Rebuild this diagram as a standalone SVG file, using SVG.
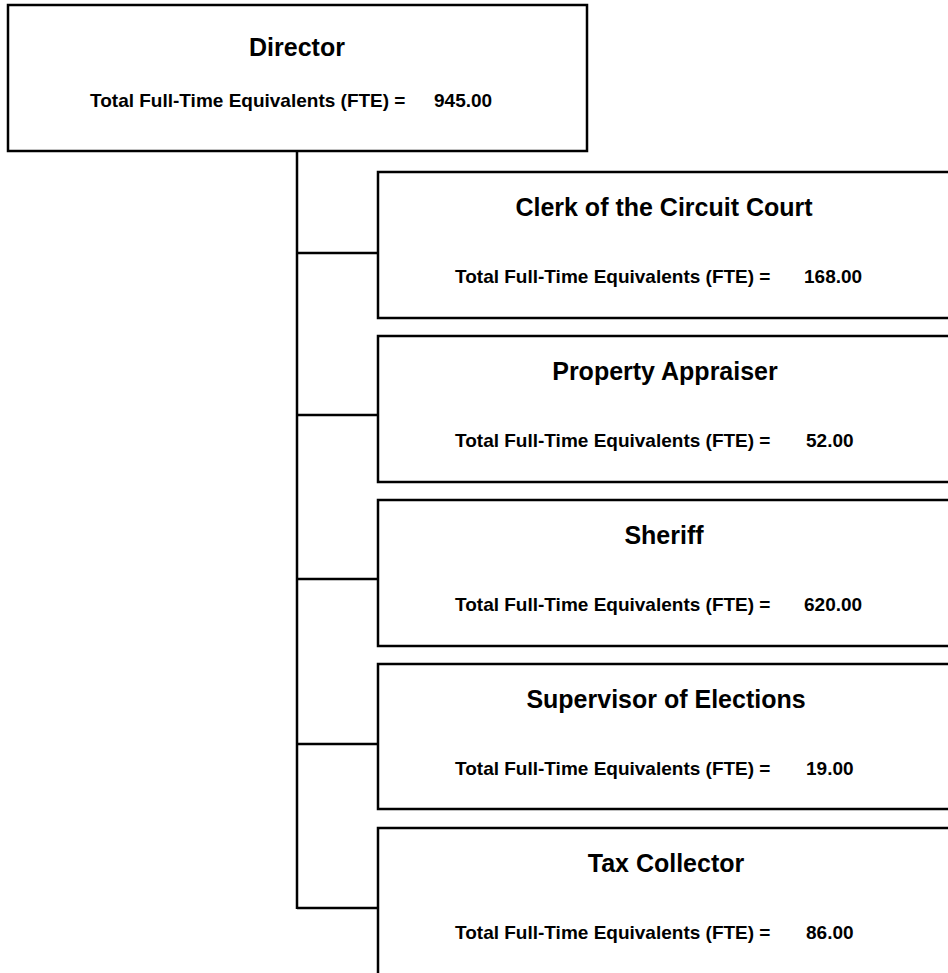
<svg xmlns="http://www.w3.org/2000/svg" width="948" height="973" viewBox="0 0 948 973">
<style>
.box{fill:#fff;stroke:#000;stroke-width:2.5}
.conn{fill:none;stroke:#000;stroke-width:2.5}
.title{font-family:"Liberation Sans",Arial,sans-serif;font-weight:bold;font-size:25px;text-anchor:middle;fill:#000}
.fte{font-family:"Liberation Sans",Arial,sans-serif;font-weight:bold;font-size:19px;fill:#000}
</style>
<rect width="948" height="973" fill="#fff"/>
<g id="connectors">
<path class="conn" d="M297,151 V909"/>
<path class="conn" d="M297,253 H378"/>
<path class="conn" d="M297,415 H378"/>
<path class="conn" d="M297,579 H378"/>
<path class="conn" d="M297,744 H378"/>
<path class="conn" d="M297,908 H378"/>
</g>
<g id="director">
<rect class="box" x="8" y="5" width="579" height="146"/>
<text class="title" x="297" y="56">Director</text>
<text class="fte" x="90" y="107">Total Full-Time Equivalents (FTE) =<tspan x="434">945.00</tspan></text>
</g>
<g id="clerk">
<rect class="box" x="378" y="172" width="600" height="146"/>
<text class="title" x="664" y="216">Clerk of the Circuit Court</text>
<text class="fte" x="455" y="283">Total Full-Time Equivalents (FTE) =<tspan x="804">168.00</tspan></text>
</g>
<g id="property-appraiser">
<rect class="box" x="378" y="336" width="600" height="146"/>
<text class="title" x="665" y="380">Property Appraiser</text>
<text class="fte" x="455" y="447">Total Full-Time Equivalents (FTE) =<tspan x="806">52.00</tspan></text>
</g>
<g id="sheriff">
<rect class="box" x="378" y="500" width="600" height="146"/>
<text class="title" x="664" y="544">Sheriff</text>
<text class="fte" x="455" y="611">Total Full-Time Equivalents (FTE) =<tspan x="804">620.00</tspan></text>
</g>
<g id="supervisor-of-elections">
<rect class="box" x="378" y="664" width="600" height="145"/>
<text class="title" x="666" y="708">Supervisor of Elections</text>
<text class="fte" x="455" y="775">Total Full-Time Equivalents (FTE) =<tspan x="806">19.00</tspan></text>
</g>
<g id="tax-collector">
<rect class="box" x="378" y="828" width="600" height="160"/>
<text class="title" x="666" y="872">Tax Collector</text>
<text class="fte" x="455" y="939">Total Full-Time Equivalents (FTE) =<tspan x="806">86.00</tspan></text>
</g>
</svg>
